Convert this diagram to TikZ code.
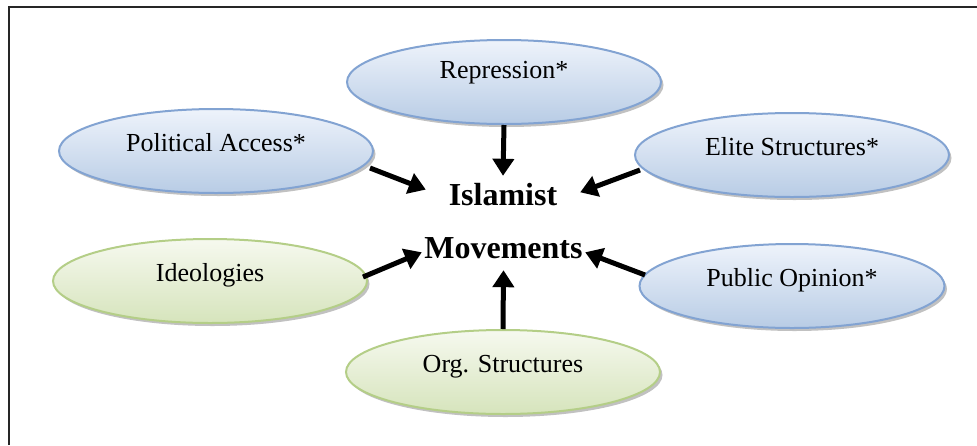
\documentclass[tikz,border=0pt]{standalone}
\usepackage{fontspec}
\setmainfont{Liberation Serif}
\usetikzlibrary{shapes.geometric,shadows,arrows.meta,calc}
\definecolor{bdraw}{RGB}{130,163,210}
\definecolor{btop}{RGB}{238,243,251}
\definecolor{bbot}{RGB}{184,204,229}
\definecolor{gdraw}{RGB}{180,206,135}
\definecolor{gtop}{RGB}{246,249,239}
\definecolor{gbot}{RGB}{214,228,188}
\tikzset{
  oval/.style={ellipse, minimum width=314pt, minimum height=84pt, inner sep=2pt,
    line width=2pt, font=\fontsize{26}{30}\selectfont, text height=14pt, text depth=14pt,
    drop shadow={shadow xshift=2.5pt, shadow yshift=-3pt, fill=gray!70, opacity=0.7}},
  blueoval/.style={oval, draw=bdraw, top color=btop, bottom color=bbot},
  greenoval/.style={oval, draw=gdraw, top color=gtop, bottom color=gbot},
  core/.style={inner sep=0pt, font=\bfseries\fontsize{32}{36}\selectfont},
  arr/.style={line width=5pt, -{Triangle[length=17pt,width=21pt]}},
  frame/.style={line width=2.5pt, draw=black!85}
}
\begin{document}
\begin{tikzpicture}[x=1pt,y=-1pt]
\useasboundingbox (0,0) rectangle (977,445);
\draw[frame] (9,445) -- (9,7) -- (977,7);

\node[blueoval, text depth=22pt] (rep) at (504,82) {Repression*};
\node[blueoval] (pa) at (216,151) {Political Access*};
\node[blueoval] (elite) at (792,155) {Elite Structures*};
\node[greenoval] (ideo) at (210,281) {Ideologies};
\node[blueoval, minimum width=305pt] (pub) at (792,286) {Public Opinion*};
\node[greenoval] (org) at (503,372) {Org. Structures};

\node[core, minimum width=154pt, minimum height=38pt] (isl) at (503,195) {Islamist};
\node[core, minimum width=163pt, minimum height=44pt] (mov) at (503.5,248) {Movements};

\draw[arr] (rep.south) -- (isl.north);
\draw[arr] ($(pa.center)+(154,17)$) -- (isl.176);
\draw[arr] ($(elite.center)+(-152,15)$) -- (isl.2);
\draw[arr] ($(ideo.center)+(153,-4)$) -- (mov.183.5);
\draw[arr] ($(pub.center)+(-147,-11)$) -- (mov.-3.5);
\draw[arr] (org.north) -- (mov.south);
\end{tikzpicture}
\end{document}
